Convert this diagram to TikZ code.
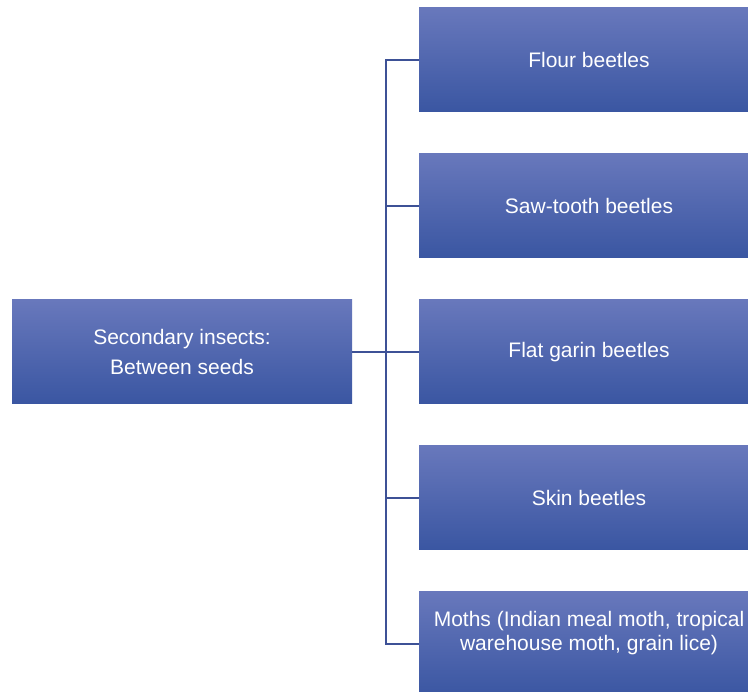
\documentclass[tikz,border=0pt]{standalone}
\usepackage{fontspec}
\setmainfont{Liberation Sans}
\usetikzlibrary{positioning}
\definecolor{insTop}{HTML}{6878BC}
\definecolor{insMid}{HTML}{4764B0}
\definecolor{insBot}{HTML}{3A56A2}
\definecolor{insLine}{HTML}{3D5196}
\tikzset{
  groupbox/.style={
    shading=axis, top color=insTop, middle color=insMid, bottom color=insBot,
    minimum width=#1, minimum height=104pt, inner sep=0pt,
    text=white, align=center, font=\fontsize{21}{30}\selectfont},
  groupbox/.default=340pt,
  branch/.style={draw=insLine, line width=1.2pt},
}

\begin{document}
\begin{tikzpicture}[x=1pt, y=-1pt]
\useasboundingbox (0,0) rectangle (748,692);

% ---- the group
\node[groupbox] (SEC) at (182,352) {Secondary insects:\\ Between seeds};

% ---- the members
\node[groupbox] (FLOUR) at (589,60)  {Flour beetles};
\node[groupbox] (SAW)   at (589,206) {Saw-tooth beetles};
\node[groupbox] (FLAT)  at (589,352) {Flat garin beetles};
\node[groupbox] (SKIN)  at (589,498) {Skin beetles};
\node[groupbox, font=\fontsize{21}{24}\selectfont, text depth=26pt] (MOTH) at (589,644)
  {Moths (Indian meal moth, tropical\\ warehouse moth, grain lice)};

% ---- connectors
\coordinate (HUB) at (386,352);
\draw[branch] (SEC.east) -- (HUB);
\foreach \m in {FLOUR,SAW,FLAT,SKIN,MOTH}
  \draw[branch] (HUB) |- (\m.west);

\end{tikzpicture}
\end{document}
